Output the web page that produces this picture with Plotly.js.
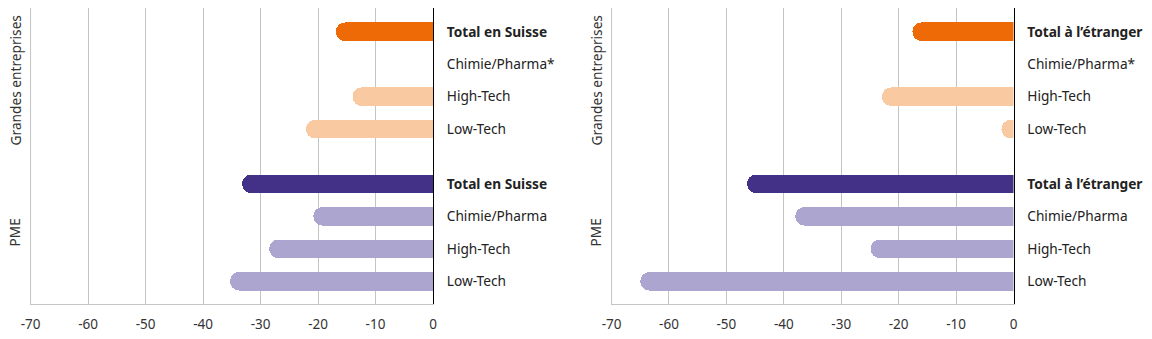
<!DOCTYPE html>
<html><head><meta charset="utf-8">
<script src="https://cdn.plot.ly/plotly-3.0.1.min.js"></script>
<style>html,body{margin:0;padding:0;background:#fff;}#chart{width:1152px;height:339px;}</style>
</head><body><div id="chart"></div>
<script>
const groups = ['Grandes entreprises', 'PME'];
const rowsSuisse = ['Total en Suisse', 'Chimie/Pharma*', 'High-Tech', 'Low-Tech', 'Total en Suisse', 'Chimie/Pharma', 'High-Tech', 'Low-Tech'];
const rowsEtranger = ['Total à l’étranger', 'Chimie/Pharma*', 'High-Tech', 'Low-Tech', 'Total à l’étranger', 'Chimie/Pharma', 'High-Tech', 'Low-Tech'];
const valuesSuisse = [-16.9, null, -14.0, -22.1, -33.2, -20.8, -28.5, -35.3];
const valuesEtranger = [-17.6, null, -22.9, -2.1, -46.4, -38.0, -24.9, -65.0];
const xTicks = [-70, -60, -50, -40, -30, -20, -10, 0];

const rowsPerGroup = 4, groupGap = 0.68;
const pos = rowsSuisse.map((_, i) => Math.floor(i / rowsPerGroup) * (rowsPerGroup + groupGap) + (i % rowsPerGroup));
const colors = rowsSuisse.map((_, i) => {
  const g = Math.floor(i / rowsPerGroup), total = (i % rowsPerGroup) === 0;
  if (g === 0) return total ? '#ED6A07' : '#F9C9A1';
  return total ? '#433187' : '#ACA5D0';
});
const bold = (labels) => labels.map((t, i) => (i % rowsPerGroup) === 0 ? '<b>' + t + '</b>' : t);

const font = 'Noto Sans, Open Sans, sans-serif';
const gridColor = '#c4c4c4';
const traces = [
  {type: 'bar', orientation: 'h', x: valuesSuisse, y: pos, xaxis: 'x', yaxis: 'y',
   marker: {color: colors, cornerradius: '50%'}, width: 0.57, hoverinfo: 'x'},
  {type: 'bar', orientation: 'h', x: valuesEtranger, y: pos, xaxis: 'x2', yaxis: 'y2',
   marker: {color: colors, cornerradius: '50%'}, width: 0.57, hoverinfo: 'x'}
];
const W = 1152;
const yRange = [8.38, -0.73];
const xAxisBase = {range: [-70.1, 0], tickvals: xTicks, ticktext: xTicks.map(String),
  showgrid: true, gridcolor: gridColor, gridwidth: 1, zeroline: false,
  showline: true, linecolor: gridColor, linewidth: 1, ticks: '', ticklabelstandoff: 8,
  tickfont: {family: font, size: 13.5, color: '#333'}, fixedrange: true};
const yAxisBase = {range: yRange, tickvals: pos, side: 'right', showgrid: false, zeroline: false,
  showline: true, linecolor: '#000', linewidth: 1, ticks: '', ticklabelstandoff: 10,
  tickfont: {family: font, size: 13.7, color: '#222'}, fixedrange: true};
const groupCenter = (g) => g * (rowsPerGroup + groupGap) + (rowsPerGroup - 1) / 2;
const annotations = [];
[[15, 'y'], [596, 'y2']].forEach(([px, yref]) => {
  groups.forEach((gname, g) => annotations.push({
    text: gname, xref: 'paper', x: px / W, yref: yref, y: groupCenter(g),
    textangle: -90, showarrow: false, xanchor: 'center', yanchor: 'middle',
    font: {family: font, size: 13.7, color: '#333'}
  }));
});
const shapes = ['x', 'x2'].map((xr, k) => ({
  type: 'line', xref: xr, yref: (k ? 'y2' : 'y') + ' domain', x0: -70, x1: -70, y0: 0, y1: 1,
  line: {color: gridColor, width: 1}, layer: 'below'
}));
const layout = {
  width: 1152, height: 339, margin: {l: 0, r: 0, t: 8, b: 35},
  paper_bgcolor: '#fff', plot_bgcolor: '#fff', showlegend: false, bargap: 0,
  xaxis: Object.assign({}, xAxisBase, {domain: [30 / W, 433 / W], anchor: 'y'}),
  yaxis: Object.assign({}, yAxisBase, {anchor: 'x', ticktext: bold(rowsSuisse)}),
  xaxis2: Object.assign({}, xAxisBase, {domain: [611 / W, 1013.5 / W], anchor: 'y2'}),
  yaxis2: Object.assign({}, yAxisBase, {anchor: 'x2', ticktext: bold(rowsEtranger)}),
  annotations: annotations, shapes: shapes
};
Plotly.newPlot('chart', traces, layout, {displayModeBar: false, staticPlot: true});
</script></body></html>
